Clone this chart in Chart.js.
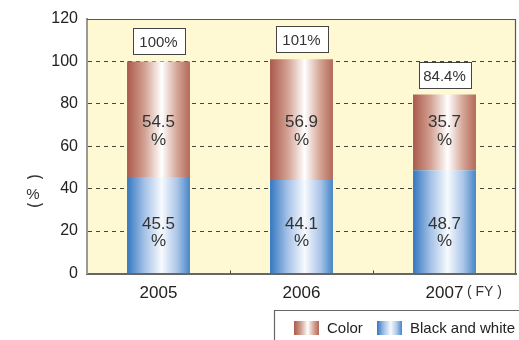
<!DOCTYPE html>
<html>
<head>
<meta charset="utf-8">
<script src="https://cdn.jsdelivr.net/npm/chart.js@4/dist/chart.umd.min.js"></script>
<style>
  html, body { margin: 0; padding: 0; background: #fff; }
  #wrap { width: 519px; height: 340px; position: relative; }
</style>
</head>
<body>
<div id="wrap"><canvas id="shareChart"></canvas></div>
<script>
// ── Data ─────────────────────────────────────────────────────────────────────
const years      = ['2005', '2006', '2007'];
const monoValues = [45.5, 44.1, 48.7];   // Black and white
const colorValues = [54.5, 56.9, 35.7];  // Color
const yTicks     = [0, 20, 40, 60, 80, 100, 120];

const FONT = '"Liberation Sans", Arial, sans-serif';
const PLOT_BG = '#FEF9D3';

// ── Gradients ────────────────────────────────────────────────────────────────
const BROWN_STOPS = [[0, '#A95A4B'], [0.28, '#D3A193'], [0.55, '#FFFFFF'], [0.8, '#D4A394'], [1, '#B2695A']];
const BLUE_STOPS  = [[0, '#3477C1'], [0.28, '#A5C2E7'], [0.55, '#F7FAFE'], [0.8, '#A9C5E8'], [1, '#4585C7']];

function hGradient(ctx, x0, x1, stops) {
  const g = ctx.createLinearGradient(x0, 0, x1, 0);
  stops.forEach(s => g.addColorStop(s[0], s[1]));
  return g;
}

const BAR_PCT = 0.44;

function barFill(stops) {
  return (c) => {
    const chart = c.chart;
    const xs = chart.scales.x;
    if (!chart.chartArea || !xs || c.dataIndex === undefined) return stops[0][1];
    const cx = xs.getPixelForValue(c.dataIndex);
    const half = (xs.width / years.length) * BAR_PCT / 2;
    return hGradient(chart.ctx, cx - half, cx + half, stops);
  };
}

// ── Plugins ──────────────────────────────────────────────────────────────────
const plotBackground = {
  id: 'plotBackground',
  beforeDraw(chart) {
    const { ctx, chartArea: a } = chart;
    ctx.save();
    ctx.fillStyle = PLOT_BG;
    ctx.fillRect(a.left, a.top, a.right - a.left, a.bottom - a.top);
    ctx.restore();
  },
  afterDraw(chart) {
    const { ctx, chartArea: a } = chart;
    ctx.save();
    ctx.strokeStyle = '#555';
    ctx.lineWidth = 1.2;
    ctx.beginPath();
    ctx.moveTo(a.left, a.top + 0.5);
    ctx.lineTo(a.right - 0.5, a.top + 0.5);
    ctx.lineTo(a.right - 0.5, a.bottom);
    ctx.stroke();

    // small category separators on the base line
    const xs = chart.scales.x;
    const step = xs.width / years.length;
    ctx.strokeStyle = '#444';
    ctx.lineWidth = 1;
    for (let i = 1; i < years.length; i++) {
      const x = Math.round(a.left + step * i) + 0.5;
      ctx.beginPath();
      ctx.moveTo(x, a.bottom - 3);
      ctx.lineTo(x, a.bottom);
      ctx.stroke();
    }
    ctx.restore();
  }
};

function fmtPct(v) {
  return parseFloat(v.toFixed(1)) + '%';
}

const valueLabels = {
  id: 'valueLabels',
  afterDatasetsDraw(chart) {
    const { ctx } = chart;
    const ys = chart.scales.y;
    const top = chart.getDatasetMeta(1);
    ctx.save();
    ctx.textAlign = 'center';
    ctx.textBaseline = 'middle';

    years.forEach((yr, i) => {
      const bar = top.data[i];
      const cx = bar.x;

      // segment shares
      ctx.fillStyle = '#333';
      ctx.font = '17px ' + FONT;
      ctx.fillText(colorValues[i].toFixed(1), cx, ys.getPixelForValue(71.3));
      ctx.fillText('%', cx, ys.getPixelForValue(63.0));
      ctx.fillText(monoValues[i].toFixed(1), cx, ys.getPixelForValue(23.2));
      ctx.fillText('%', cx, ys.getPixelForValue(15.0));

      // total in a boxed tag above the stack
      const total = monoValues[i] + colorValues[i];
      const yTop = ys.getPixelForValue(total);
      const w = 52, h = 26;
      const bx = Math.round(cx - w / 2) + 0.5;
      const by = Math.round(yTop - 7 - h) + 0.5;
      ctx.fillStyle = '#fff';
      ctx.fillRect(bx, by, w, h);
      ctx.strokeStyle = '#444';
      ctx.lineWidth = 1;
      ctx.strokeRect(bx, by, w, h);
      ctx.fillStyle = '#333';
      ctx.font = '15px ' + FONT;
      ctx.fillText(fmtPct(total), cx, by + h / 2 + 1);
    });
    ctx.restore();
  }
};

function rotatedChar(ctx, ch, x, y) {
  ctx.save();
  ctx.translate(x, y);
  ctx.rotate(Math.PI / 2);
  ctx.fillText(ch, 0, 0);
  ctx.restore();
}

const extraText = {
  id: 'extraText',
  afterDraw(chart) {
    const { ctx } = chart;
    ctx.save();
    ctx.fillStyle = '#333';
    ctx.textAlign = 'center';
    ctx.textBaseline = 'middle';

    // unit on the y axis, brackets turned to run vertically
    ctx.font = '17px "DejaVu Sans", sans-serif';
    rotatedChar(ctx, '(', 33, 177);
    rotatedChar(ctx, ')', 33, 205);
    ctx.font = '15px ' + FONT;
    ctx.fillText('%', 33, 194.5);

    // fiscal year marker
    ctx.font = '14px ' + FONT;
    ctx.textAlign = 'left';
    ctx.fillText('( FY )', 467, 292);

    // legend frame
    ctx.strokeStyle = '#666';
    ctx.lineWidth = 1.2;
    ctx.beginPath();
    ctx.moveTo(274.5, 340);
    ctx.lineTo(274.5, 310.5);
    ctx.lineTo(519, 310.5);
    ctx.stroke();

    // legend entries
    const items = [
      { x: 294, stops: BROWN_STOPS, text: 'Color' },
      { x: 377, stops: BLUE_STOPS,  text: 'Black and white' }
    ];
    ctx.font = '15px ' + FONT;
    items.forEach(it => {
      ctx.fillStyle = hGradient(ctx, it.x, it.x + 25, it.stops);
      ctx.fillRect(it.x, 321, 25, 14);
      ctx.fillStyle = '#222';
      ctx.fillText(it.text, it.x + 33, 328.5);
    });
    ctx.restore();
  }
};

// ── Chart ────────────────────────────────────────────────────────────────────
new Chart(document.getElementById('shareChart'), {
  type: 'bar',
  data: {
    labels: years,
    datasets: [
      { label: 'Black and white', data: monoValues, backgroundColor: barFill(BLUE_STOPS),
        borderWidth: 0, barPercentage: BAR_PCT, categoryPercentage: 1 },
      { label: 'Color', data: colorValues, backgroundColor: barFill(BROWN_STOPS),
        borderWidth: 0, barPercentage: BAR_PCT, categoryPercentage: 1 }
    ]
  },
  options: {
    animation: false,
    responsive: true,
    maintainAspectRatio: false,
    devicePixelRatio: 1,
    layout: { padding: { top: 19, right: 3, left: 0, bottom: 0 } },
    plugins: { legend: { display: false }, tooltip: { enabled: false } },
    scales: {
      x: {
        stacked: true,
        grid: { display: false },
        border: { display: true, color: '#666', width: 2 },
        ticks: { color: '#222', font: { family: FONT, size: 17 }, padding: 2 },
        afterFit(s) { s.height = 66.5; }
      },
      y: {
        stacked: true,
        min: 0,
        max: 120,
        afterBuildTicks(s) { s.ticks = yTicks.map(v => ({ value: v })); },
        grid: {
          color: (c) => (c.tick && c.tick.value > 0 && c.tick.value < 120) ? '#444' : 'rgba(0,0,0,0)',
          lineWidth: 1,
          drawTicks: false
        },
        border: { display: true, color: '#999', width: 2, dash: [4, 4], dashOffset: 0 },
        ticks: { color: '#222', font: { family: FONT, size: 16 }, padding: 9 },
        afterFit(s) { s.width = 87; }
      }
    }
  },
  plugins: [plotBackground, valueLabels, extraText]
});
</script>
</body>
</html>
